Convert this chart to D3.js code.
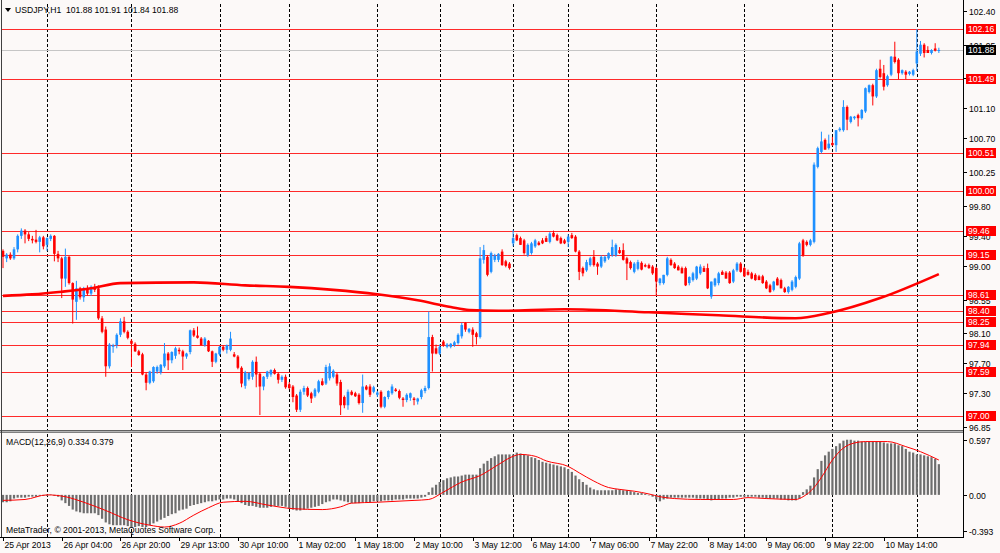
<!DOCTYPE html>
<html lang="en">
<head>
<meta charset="UTF-8">
<title>USDJPY,H1</title>
<script src="https://cdn.jsdelivr.net/npm/d3@7"></script>
<style>
body { margin: 0; background: #fff; }
svg { display: block; font-family: "Liberation Sans", Arial, sans-serif; font-size: 8.6px; }
</style>
</head>
<body>
<svg id="chart" width="1000" height="553"></svg>
<script>
// hourly candles, bar 0 = 25 Apr 2013 ... bar 255 = 10 May
var opens = [
 99.20,99.10,99.15,99.10,99.22,99.40,99.47,99.42,99.36,99.35,
 99.32,99.38,99.28,99.36,99.40,99.16,99.10,98.83,99.12,98.77,
 98.52,98.70,98.58,98.70,98.63,98.72,98.70,98.30,98.15,97.66,
 97.92,97.94,98.08,98.26,98.12,98.00,97.96,97.86,97.82,97.55,
 97.44,97.46,97.59,97.58,97.66,97.83,97.74,97.80,97.88,97.86,
 97.79,97.85,98.14,98.07,98.03,97.94,98.00,97.86,97.72,97.82,
 97.92,97.88,97.88,97.82,97.79,97.64,97.40,97.49,97.52,97.72,
 97.56,97.39,97.52,97.55,97.61,97.56,97.48,97.52,97.42,97.39,
 97.27,97.08,97.32,97.37,97.30,97.26,97.32,97.46,97.43,97.50,
 97.52,97.55,97.45,97.25,97.14,97.32,97.30,97.28,97.17,97.39,
 97.39,97.32,97.28,97.32,97.12,97.25,97.30,97.35,97.33,97.23,
 97.21,97.24,97.23,97.19,97.25,97.33,97.37,98.05,97.90,97.83,
 97.99,97.92,97.92,97.94,97.97,98.06,98.24,98.12,98.15,98.10,
 98.05,99.08,99.12,98.92,99.08,99.08,99.19,99.06,99.03,99.30,
 99.41,99.37,99.34,99.14,99.17,99.26,99.31,99.34,99.37,99.32,
 99.44,99.41,99.37,99.34,99.32,99.41,99.39,99.19,98.97,98.94,
 99.01,99.12,99.03,98.99,99.06,99.10,99.14,99.14,99.21,99.21,
 99.10,99.05,98.92,98.96,99.04,99.01,99.01,98.99,98.97,98.77,
 98.77,98.88,99.08,99.03,98.99,98.97,98.97,98.77,98.81,98.83,
 98.90,98.97,98.97,98.59,98.74,98.77,98.92,98.91,98.91,98.79,
 98.94,99.03,98.97,98.92,98.90,98.88,98.86,98.86,98.79,98.74,
 98.68,98.83,98.81,98.70,98.65,98.68,98.72,98.83,99.34,99.32,
 99.28,99.32,100.32,100.52,100.68,100.57,100.64,100.61,100.81,100.81,
 101.12,100.92,100.97,101.01,100.97,101.06,101.32,101.41,101.26,101.63,
 101.57,101.41,101.55,101.79,101.75,101.57,101.59,101.56,101.55,101.70,
 101.83,101.95,101.88,101.84,101.90,101.88
];
var highs = [
 99.22,99.17,99.18,99.25,99.42,99.50,99.49,99.45,99.40,99.48,
 99.40,99.40,99.38,99.42,99.41,99.20,99.12,99.23,99.13,98.78,
 98.80,98.72,98.72,98.74,98.74,98.76,98.74,98.33,98.19,97.97,
 97.96,98.10,98.30,98.32,98.14,98.02,97.98,97.88,97.84,97.58,
 97.60,97.66,97.67,97.69,97.97,97.85,97.86,97.92,97.91,97.88,
 97.84,98.15,98.17,98.19,98.05,98.05,98.01,97.87,97.84,97.93,
 97.94,97.95,98.12,97.85,97.81,97.66,97.60,97.58,97.74,97.79,
 97.58,97.53,97.60,97.62,97.63,97.58,97.54,97.55,97.45,97.41,
 97.29,97.35,97.40,97.39,97.32,97.37,97.48,97.50,97.68,97.70,
 97.62,97.57,97.48,97.27,97.35,97.34,97.32,97.30,97.55,97.41,
 97.42,97.40,97.33,97.34,97.26,97.34,97.42,97.37,97.35,97.25,
 97.30,97.31,97.25,97.24,97.36,97.40,98.39,98.08,97.95,97.95,
 98.01,97.97,97.97,98.00,98.10,98.24,98.25,98.17,98.18,98.12,
 99.25,99.28,99.14,99.19,99.16,99.17,99.22,99.08,99.05,99.48,
 99.43,99.39,99.36,99.30,99.32,99.36,99.33,99.37,99.40,99.45,
 99.47,99.43,99.39,99.36,99.42,99.44,99.41,99.21,98.99,99.08,
 99.12,99.21,99.05,99.14,99.14,99.18,99.35,99.30,99.25,99.30,
 99.12,99.07,99.05,99.08,99.06,99.03,99.03,99.01,98.99,98.84,
 98.88,99.12,99.10,99.05,99.01,98.99,98.99,98.86,98.92,99.00,
 99.02,99.00,99.03,98.79,98.84,98.92,98.94,98.93,98.93,98.96,
 99.05,99.05,98.99,98.95,98.92,98.90,98.88,98.88,98.81,98.76,
 98.80,98.85,98.83,98.72,98.73,98.81,98.87,99.32,99.36,99.34,
 99.36,100.38,100.59,100.79,100.70,100.75,100.72,100.81,100.85,101.21,
 101.14,101.00,101.00,101.03,101.09,101.38,101.42,101.43,101.63,101.75,
 101.68,101.55,101.80,101.99,101.77,101.62,101.61,101.60,101.63,102.16,
 102.00,101.97,101.93,101.89,101.97,101.91
];
var lows = [
 98.97,99.05,99.08,99.08,99.18,99.36,99.30,99.33,99.30,99.30,
 99.18,99.22,99.20,99.33,99.06,99.05,98.57,98.72,98.75,98.23,
 98.28,98.55,98.52,98.60,98.60,98.65,98.28,98.10,97.52,97.63,
 97.84,97.90,98.05,98.10,98.02,97.65,97.85,97.80,97.54,97.34,
 97.42,97.44,97.56,97.55,97.64,97.61,97.70,97.76,97.82,97.61,
 97.76,97.82,98.05,98.03,97.94,97.92,97.85,97.65,97.70,97.80,
 97.86,97.83,97.86,97.78,97.62,97.38,97.36,97.47,97.48,97.38,
 97.01,97.34,97.49,97.52,97.55,97.43,97.45,97.36,97.35,97.18,
 97.05,97.05,97.28,97.25,97.17,97.24,97.30,97.40,97.41,97.47,
 97.50,97.40,97.01,97.10,97.08,97.27,97.25,97.15,97.04,97.34,
 97.25,97.30,97.25,97.10,97.10,97.22,97.28,97.32,97.22,97.12,
 97.18,97.20,97.14,97.15,97.22,97.30,97.35,97.59,97.82,97.81,
 97.92,97.90,97.90,97.92,97.95,98.03,98.12,98.10,97.92,97.95,
 98.03,99.03,98.86,98.90,99.05,99.05,99.00,98.98,98.95,99.26,
 99.33,99.28,99.15,99.12,99.15,99.24,99.27,99.29,99.32,99.30,
 99.38,99.33,99.29,99.29,99.25,99.36,99.18,98.81,98.86,98.92,
 98.99,98.99,98.88,98.97,99.04,99.08,99.12,99.12,99.16,99.07,
 98.81,98.95,98.90,98.94,98.94,98.98,98.96,98.88,98.61,98.74,
 98.75,98.86,99.00,98.96,98.94,98.90,98.73,98.74,98.79,98.81,
 98.88,98.92,98.69,98.56,98.72,98.74,98.88,98.83,98.76,98.77,
 98.92,98.91,98.85,98.87,98.82,98.80,98.81,98.76,98.69,98.64,
 98.66,98.74,98.70,98.64,98.63,98.66,98.70,98.81,99.12,99.26,
 99.26,99.30,100.30,100.50,100.55,100.55,100.60,100.52,100.79,100.79,
 100.81,100.90,100.95,100.86,100.95,101.04,101.30,101.14,101.24,101.50,
 101.34,101.39,101.53,101.70,101.49,101.55,101.49,101.54,101.53,101.60,
 101.80,101.78,101.84,101.82,101.86,101.84
];
var closes = [
 99.12,99.15,99.10,99.22,99.40,99.47,99.42,99.36,99.34,99.32,
 99.38,99.26,99.37,99.40,99.16,99.10,98.83,99.12,98.77,98.55,
 98.70,98.58,98.70,98.63,98.72,98.68,98.30,98.12,97.66,97.95,
 97.94,98.08,98.26,98.12,98.04,97.96,97.86,97.81,97.55,97.44,
 97.59,97.65,97.65,97.68,97.83,97.74,97.85,97.90,97.86,97.79,
 97.83,98.14,98.07,98.04,97.94,98.03,97.86,97.72,97.83,97.92,
 97.88,97.94,98.03,97.79,97.64,97.43,97.58,97.57,97.72,97.55,
 97.39,97.52,97.59,97.61,97.56,97.48,97.52,97.38,97.37,97.25,
 97.08,97.32,97.37,97.27,97.23,97.35,97.46,97.41,97.65,97.66,
 97.60,97.43,97.14,97.14,97.32,97.28,97.26,97.17,97.39,97.35,
 97.28,97.38,97.31,97.12,97.25,97.33,97.39,97.33,97.24,97.21,
 97.28,97.30,97.21,97.23,97.34,97.37,98.05,97.83,97.83,97.92,
 97.94,97.95,97.96,97.98,98.08,98.21,98.15,98.16,98.08,98.05,
 99.10,99.21,98.88,99.17,99.14,99.16,99.01,99.00,98.97,99.37,
 99.34,99.28,99.17,99.28,99.30,99.34,99.28,99.30,99.32,99.43,
 99.39,99.34,99.30,99.30,99.39,99.37,99.19,98.92,98.90,99.05,
 99.10,99.01,98.99,99.12,99.12,99.17,99.25,99.28,99.17,99.08,
 99.03,98.97,99.03,99.05,98.95,98.99,98.97,98.90,98.79,98.83,
 98.88,99.10,99.01,98.97,98.94,98.90,98.74,98.85,98.90,98.99,
 98.99,98.92,98.70,98.79,98.83,98.90,98.88,98.83,98.77,98.94,
 99.03,98.92,98.86,98.88,98.83,98.81,98.81,98.77,98.70,98.65,
 98.79,98.74,98.70,98.65,98.72,98.79,98.85,99.30,99.14,99.28,
 99.34,100.35,100.57,100.66,100.55,100.63,100.61,100.81,100.83,101.12,
 100.95,100.99,100.99,100.97,101.08,101.37,101.41,101.26,101.61,101.52,
 101.39,101.53,101.79,101.72,101.57,101.61,101.55,101.59,101.61,101.86,
 101.95,101.84,101.84,101.88,101.87,101.88
];

// moving average
var maBars   = [0, 8, 16, 24, 32, 52, 66, 78, 90, 102, 113, 122, 127, 135, 153, 176, 195, 216, 225, 239, 255];
var maValues = [98.60, 98.62, 98.655, 98.70, 98.77, 98.78, 98.74, 98.72, 98.68, 98.62, 98.54, 98.45, 98.41, 98.40, 98.42, 98.38, 98.34, 98.30, 98.37, 98.57, 98.89];

// MACD(12,26,9) histogram per bar
var macdHist = [
 -0.08,-0.08,-0.07,-0.04,-0.03,-0.03,-0.03,-0.02,-0.02,-0.02,
 -0.01,-0.01,-0.01,0.005,-0.01,-0.02,-0.06,-0.09,-0.12,-0.16,
 -0.18,-0.19,-0.20,-0.20,-0.20,-0.20,-0.22,-0.26,-0.30,-0.32,
 -0.33,-0.33,-0.33,-0.33,-0.34,-0.35,-0.35,-0.34,-0.35,-0.35,
 -0.33,-0.31,-0.29,-0.27,-0.25,-0.23,-0.21,-0.20,-0.17,-0.16,
 -0.15,-0.12,-0.11,-0.10,-0.09,-0.08,-0.07,-0.07,-0.06,-0.05,
 -0.05,-0.04,-0.04,-0.05,-0.07,-0.09,-0.11,-0.12,-0.12,-0.13,
 -0.14,-0.14,-0.14,-0.13,-0.12,-0.12,-0.12,-0.13,-0.15,-0.16,
 -0.17,-0.17,-0.16,-0.15,-0.14,-0.13,-0.12,-0.10,-0.08,-0.07,
 -0.05,-0.05,-0.06,-0.07,-0.08,-0.09,-0.09,-0.09,-0.08,-0.08,
 -0.08,-0.07,-0.07,-0.07,-0.06,-0.06,-0.06,-0.05,-0.05,-0.05,
 -0.04,-0.04,-0.04,-0.04,-0.03,-0.02,0.03,0.08,0.11,0.14,
 0.16,0.18,0.19,0.20,0.20,0.21,0.22,0.22,0.22,0.22,
 0.29,0.34,0.37,0.40,0.42,0.44,0.44,0.44,0.44,0.44,
 0.46,0.45,0.44,0.43,0.41,0.40,0.38,0.36,0.35,0.34,
 0.33,0.32,0.31,0.30,0.28,0.25,0.21,0.17,0.14,0.11,
 0.08,0.06,0.05,0.05,0.05,0.05,0.05,0.06,0.06,0.05,
 0.05,0.04,0.03,0.02,0.02,0.01,-0.005,-0.02,-0.05,-0.07,
 -0.05,-0.04,-0.03,-0.03,-0.03,-0.03,-0.03,-0.03,-0.03,-0.04,
 -0.04,-0.04,-0.05,-0.06,-0.05,-0.05,-0.04,-0.04,-0.03,-0.03,
 -0.02,-0.02,-0.02,-0.02,-0.02,-0.02,-0.03,-0.03,-0.04,-0.04,
 -0.04,-0.04,-0.05,-0.05,-0.06,-0.06,-0.06,-0.04,0.03,0.06,
 0.10,0.19,0.28,0.37,0.43,0.47,0.50,0.53,0.56,0.59,
 0.60,0.60,0.59,0.59,0.58,0.58,0.58,0.58,0.58,0.58,
 0.57,0.56,0.56,0.56,0.54,0.53,0.50,0.47,0.46,0.44,
 0.44,0.43,0.42,0.41,0.39,0.334
];
// signal line, read at selected bars
var sigBars   = [0, 6, 12, 17, 22, 28, 34, 40, 44, 48, 52, 56, 60, 66, 72, 79, 87, 92, 95, 102, 112, 116, 120, 125, 130, 135, 139, 141, 145, 148, 154, 157, 161, 165, 168, 172, 176, 179, 183, 190, 199, 203, 208, 216, 218, 221, 223, 226, 229, 232, 235, 241, 246, 250, 255];
var sigValues = [-0.06, -0.05, 0.00, -0.02, -0.08, -0.17, -0.27, -0.33, -0.35, -0.31, -0.22, -0.14, -0.08, -0.07, -0.11, -0.15, -0.16, -0.13, -0.09, -0.08, -0.06, -0.05, 0.03, 0.14, 0.21, 0.33, 0.42, 0.44, 0.42, 0.37, 0.31, 0.24, 0.15, 0.08, 0.06, 0.04, 0.01, -0.02, -0.04, -0.05, -0.05, -0.03, -0.04, -0.05, -0.02, 0.08, 0.19, 0.38, 0.51, 0.565, 0.58, 0.58, 0.525, 0.47, 0.379];

var levels = [102.16, 101.49, 100.51, 100.00, 99.46, 99.15, 98.61, 98.40, 98.25, 97.94, 97.59, 97.00];
var bid = 101.88;
var priceTicks = ["102.40","101.95","101.50","101.10","100.70","100.25","99.80","99.40","99.00","98.55","98.10","97.70","97.30","96.85"];
var macdTicks = ["0.597","0.00","-0.393"];
var gridBars = [12, 35, 59, 78, 102, 119, 139, 154, 178, 202, 226, 249];
var timeLabels = ["25 Apr 2013","26 Apr 04:00","26 Apr 20:00","29 Apr 13:00","30 Apr 10:00","1 May 02:00","1 May 18:00","2 May 10:00","3 May 12:00","6 May 14:00","7 May 06:00","7 May 22:00","8 May 14:00","9 May 06:00","9 May 22:00","10 May 14:00"];
var labelStep = 16;

var W = 1000, H = 553;
var plotR = 963, priceTop = 4, priceBot = 430, macdTop = 433, macdBot = 537;
var bull = "#1e90ff", bear = "#ff0000";

var x = d3.scaleLinear().domain([0, 255]).range([3, 938.85]);
var y = d3.scaleLinear().domain([96.85, 102.40]).range([427, 11]);
var ym = d3.scaleLinear().domain([-0.393, 0.597]).range([531, 440]);

var svg = d3.select("#chart");
svg.append("rect").attr("width", W).attr("height", H).attr("fill", "#fcf9f8");

var defs = svg.append("defs");
defs.append("clipPath").attr("id", "cp-price").append("rect")
    .attr("x", 1).attr("y", priceTop).attr("width", plotR - 1).attr("height", priceBot - priceTop);
defs.append("clipPath").attr("id", "cp-macd").append("rect")
    .attr("x", 1).attr("y", macdTop).attr("width", plotR - 1).attr("height", macdBot - macdTop);

// vertical dashed grid through both panes
svg.append("g").selectAll("line").data(gridBars).enter().append("line")
    .attr("x1", function(d) { return Math.round(x(d)) + 0.5; })
    .attr("x2", function(d) { return Math.round(x(d)) + 0.5; })
    .attr("y1", priceTop).attr("y2", macdBot)
    .attr("stroke", "#000").attr("stroke-dasharray", "3,2");

// price pane
var gp = svg.append("g").attr("clip-path", "url(#cp-price)");
gp.selectAll("line.level").data(levels).enter().append("line").attr("class", "level")
    .attr("x1", 0).attr("x2", plotR)
    .attr("y1", function(d) { return Math.round(y(d)) + 0.5; })
    .attr("y2", function(d) { return Math.round(y(d)) + 0.5; })
    .attr("stroke", "#ff2a2a").attr("stroke-width", 1.2);
gp.append("line").attr("x1", 0).attr("x2", plotR)
    .attr("y1", Math.round(y(bid)) + 0.5).attr("y2", Math.round(y(bid)) + 0.5)
    .attr("stroke", "#c6c6c6");

var bars = d3.range(closes.length);
var candle = gp.selectAll("g.c").data(bars).enter().append("g").attr("class", "c");
candle.append("line")
    .attr("x1", function(i) { return x(i); }).attr("x2", function(i) { return x(i); })
    .attr("y1", function(i) { return y(highs[i]); }).attr("y2", function(i) { return y(lows[i]); })
    .attr("stroke", function(i) { return closes[i] >= opens[i] ? bull : bear; }).attr("stroke-width", 1);
candle.append("rect")
    .attr("x", function(i) { return x(i) - 1.3; }).attr("width", 2.6)
    .attr("y", function(i) { return y(Math.max(opens[i], closes[i])); })
    .attr("height", function(i) { return Math.max(1, Math.abs(y(opens[i]) - y(closes[i]))); })
    .attr("fill", function(i) { return closes[i] >= opens[i] ? bull : bear; });

var maLine = d3.line().x(function(d) { return x(d[0]); }).y(function(d) { return y(d[1]); }).curve(d3.curveMonotoneX);
gp.append("path").datum(d3.zip(maBars, maValues)).attr("d", maLine)
    .attr("fill", "none").attr("stroke", "#ff0000").attr("stroke-width", 2.6);

// MACD pane
var gm = svg.append("g").attr("clip-path", "url(#cp-macd)");
gm.selectAll("rect").data(bars).enter().append("rect")
    .attr("x", function(i) { return x(i) - 1.1; }).attr("width", 2.2)
    .attr("y", function(i) { return Math.min(ym(0), ym(macdHist[i])); })
    .attr("height", function(i) { return Math.abs(ym(macdHist[i]) - ym(0)); })
    .attr("fill", "#6e6e6e");
var sigLine = d3.line().x(function(d) { return x(d[0]); }).y(function(d) { return ym(d[1]); }).curve(d3.curveMonotoneX);
gm.append("path").datum(d3.zip(sigBars, sigValues)).attr("d", sigLine)
    .attr("fill", "none").attr("stroke", "#ff0000").attr("stroke-width", 1);

// frames and separator
svg.append("rect").attr("x", 0).attr("y", priceBot).attr("width", plotR).attr("height", 3).attr("fill", "#b4b4b4");
svg.append("line").attr("x1", 0).attr("x2", plotR).attr("y1", priceBot + 0.5).attr("y2", priceBot + 0.5).attr("stroke", "#606060");
svg.append("line").attr("x1", 0).attr("x2", plotR).attr("y1", macdTop - 0.5).attr("y2", macdTop - 0.5).attr("stroke", "#808080");
svg.append("line").attr("x1", 1.5).attr("x2", 1.5).attr("y1", 0).attr("y2", macdBot).attr("stroke", "#404040");
svg.append("line").attr("x1", plotR + 0.5).attr("x2", plotR + 0.5).attr("y1", 0).attr("y2", macdBot).attr("stroke", "#000");
svg.append("line").attr("x1", 0).attr("x2", plotR + 1).attr("y1", macdBot + 0.5).attr("y2", macdBot + 0.5).attr("stroke", "#000");

// price axis
var pa = svg.append("g");
priceTicks.forEach(function(t) {
    var yy = Math.round(y(+t)) + 0.5;
    pa.append("line").attr("x1", plotR).attr("x2", plotR + 4).attr("y1", yy).attr("y2", yy).attr("stroke", "#000");
    pa.append("text").attr("x", plotR + 6).attr("y", yy).attr("dy", "0.35em").attr("fill", "#000").text(t);
});
function tag(v, txt, bg) {
    var yy = Math.round(y(v));
    pa.append("rect").attr("x", plotR + 3).attr("y", yy - 5).attr("width", 30).attr("height", 10).attr("fill", bg);
    pa.append("text").attr("x", plotR + 5).attr("y", yy).attr("dy", "0.35em").attr("fill", "#fff").text(txt);
}
levels.forEach(function(v) { tag(v, v.toFixed(2), "#ff0000"); });
tag(bid, bid.toFixed(2), "#000");

// MACD axis
macdTicks.forEach(function(t) {
    var yy = Math.round(ym(+t)) + 0.5;
    pa.append("line").attr("x1", plotR).attr("x2", plotR + 4).attr("y1", yy).attr("y2", yy).attr("stroke", "#000");
    pa.append("text").attr("x", plotR + 6).attr("y", yy).attr("dy", "0.35em").attr("fill", "#000").text(t);
});

// time axis
var ta = svg.append("g");
timeLabels.forEach(function(t, k) {
    var xx = Math.round(x(k * labelStep)) + 0.5;
    ta.append("line").attr("x1", xx).attr("x2", xx).attr("y1", macdBot).attr("y2", macdBot + 4).attr("stroke", "#000");
    ta.append("text").attr("x", xx + 1).attr("y", 548).attr("fill", "#000").text(t);
});

// captions
svg.append("path").attr("d", "M5,8 L11,8 L8,12 Z").attr("fill", "#000");
svg.append("text").attr("x", 15).attr("y", 13).attr("fill", "#000").attr("xml:space", "preserve")
    .text("USDJPY,H1  101.88 101.91 101.84 101.88");
svg.append("text").attr("x", 6).attr("y", 445).attr("fill", "#000").text("MACD(12,26,9) 0.334 0.379");
svg.append("text").attr("x", 6).attr("y", 533).attr("fill", "#000").text("MetaTrader, \u00a9 2001-2013, MetaQuotes Software Corp.");
</script>
</body>
</html>
